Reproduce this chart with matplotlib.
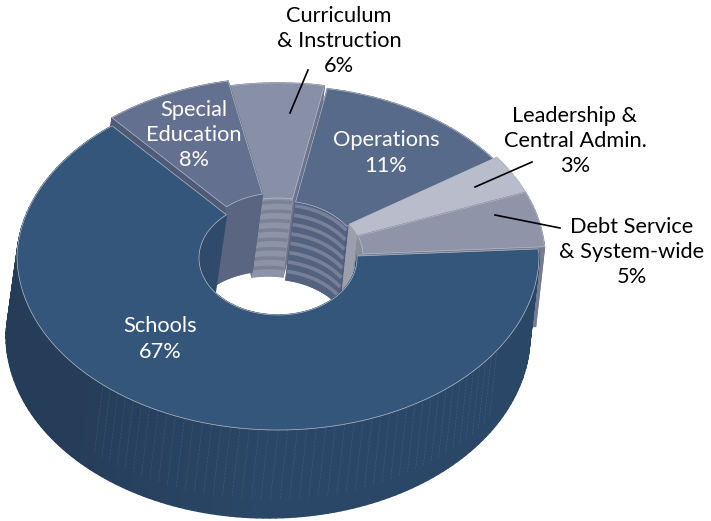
"""Exploded 3D donut chart of budget shares, drawn with polygons."""

import numpy as np
import matplotlib
matplotlib.use("Agg")
import matplotlib.pyplot as plt
from matplotlib.patches import Polygon

# chart data, counter-clockwise from the right edge
categories = ["Debt Service\n& System-wide", "Leadership &\nCentral Admin.", "Operations",
              "Curriculum\n& Instruction", "Special\nEducation", "Schools"]
shares = [5, 3, 11, 6, 8, 67]

# styling per slice
top_colors = ["#8F94A9", "#B9BCCB", "#586A8A", "#8890A8", "#64708F", "#34567A"]
side_colors = ["#777B8F", "#A3A6B5", "#4D5D7D", "#6D7389", "#4F5A76", "#253D59"]
inner_colors = ["#8A8D9C", "#9B9EAD", "#55627F", "#8E94A8", "#5A6582", "#2F4A6A"]
band_colors = [None, None, "#8D95AB", "#6F768C", None, None]
offsets = [(6, -2), (6, -2), (3, 0), (0, -3), (0, -8), (0, 0)]
draw_order = [3, 4, 2, 1, 0, 5]

START = 2.0
SEG = 1.5


def warp(t):
    # back of the ring looks a bit wider than its true angle
    return t + np.interp(t, [0, 20, 35, 70, 125, 362], [0, 0.5, 4, 9, 10, 0])


def ring_point(t, outer, z, off):
    t = np.radians(warp(np.asarray(t, dtype=float)))
    if outer:
        cx, cy, a, b = 278 - 10 * z, 255 + 80 * z, 261 + 1 * z, 175 + 8 * z
    else:
        cx, cy, a, b = 278 - 10 * z, 258 + 80 * z, 79 + 2 * z, 57 + 2 * z
    # far half of the rim shrinks a little
    s = 1 / (1 + 0.035 * np.clip(np.sin(t), 0, 1)) if outer else 1.0
    return np.column_stack([cx + a * np.cos(t) * s + off[0], cy - b * np.sin(t) * s + off[1]])


def face(ax, pts, color, z, edge=None, lw=0.0):
    ax.add_patch(Polygon(pts, closed=True, facecolor=color, edgecolor=edge or color,
                         linewidth=lw if edge else 1.0, zorder=z, joinstyle="round"))


def mix(c0, c1, f):
    rgb0 = np.array(matplotlib.colors.to_rgb(c0))
    rgb1 = np.array(matplotlib.colors.to_rgb(c1))
    return tuple(rgb0 + (rgb1 - rgb0) * np.clip(f, 0, 1))


fig = plt.figure(figsize=(7.11, 5.21), dpi=100)
ax = fig.add_axes([0, 0, 1, 1])
ax.set_xlim(0, 711)
ax.set_ylim(521, 0)
ax.axis("off")

edges = START + np.concatenate([[0], np.cumsum(shares)]) * 3.6

layer = 1
for i in draw_order:
    t = np.arange(edges[i], edges[i + 1] + SEG / 2, SEG)
    t[-1] = edges[i + 1]
    off = offsets[i]

    # radial side faces, the big slice hides its own
    if i != 5:
        for e in (t[0], t[-1]):
            pts = np.vstack([ring_point([e], False, 0, off), ring_point([e], True, 0, off),
                             ring_point([e], True, 1, off), ring_point([e], False, 1, off)])
            face(ax, pts, side_colors[i], layer)
    layer += 1

    # inner wall
    for t0, t1 in zip(t[:-1], t[1:]):
        pts = np.vstack([ring_point([t0, t1], False, 0, off), ring_point([t1, t0], False, 1, off)])
        face(ax, pts, inner_colors[i], layer)
    layer += 1
    if band_colors[i]:
        for z in np.arange(0.05, 1.0, 0.12):
            p = ring_point(t, False, z, off)
            ax.plot(p[:, 0], p[:, 1], color=band_colors[i], lw=2.6, alpha=0.6, zorder=layer, solid_capstyle="butt")
    layer += 1

    # outer wall
    for t0, t1 in zip(t[:-1], t[1:]):
        pts = np.vstack([ring_point([t0, t1], True, 0, off), ring_point([t1, t0], True, 1, off)])
        col = side_colors[i]
        if i == 5:
            col = mix("#253D59", "#2B4767", (t0 - 215) / 50)
        face(ax, pts, col, layer)
    if i == 5:
        for e in np.arange(222, 326, 2.2):
            p = np.vstack([ring_point([e], True, 0, off), ring_point([e], True, 0.8, off)])
            ax.plot(p[:, 0], p[:, 1], color="#7F93AC", lw=0.4, alpha=0.3, ls=(0, (4, 2)), zorder=layer)
    layer += 1

    # top face
    top = np.vstack([ring_point(t, True, 0, off), ring_point(t[::-1], False, 0, off)])
    face(ax, top, top_colors[i], layer, edge="#B4BDCB", lw=0.5)
    layer += 1

# leader lines
ax.plot([308, 290], [70, 113], color="black", lw=1.2, zorder=layer)
ax.plot([532, 475], [162, 187], color="black", lw=1.2, zorder=layer)
ax.plot([495, 560], [215, 228], color="black", lw=1.2, zorder=layer)

# labels
font = dict(family="Lato", fontsize=15.7, ha="center", va="center", zorder=layer + 1, linespacing=1.32)
label_xy = [(632, 252), (575, 141), (386, 153), (339, 41), (194, 135), (160, 339)]
label_col = ["black", "black", "white", "black", "white", "white"]
for name, share, (x, y), col in zip(categories, shares, label_xy, label_col):
    ax.text(x, y, f"{name}\n{share}%", color=col, **font)

fig.savefig("out.png", dpi=100)
